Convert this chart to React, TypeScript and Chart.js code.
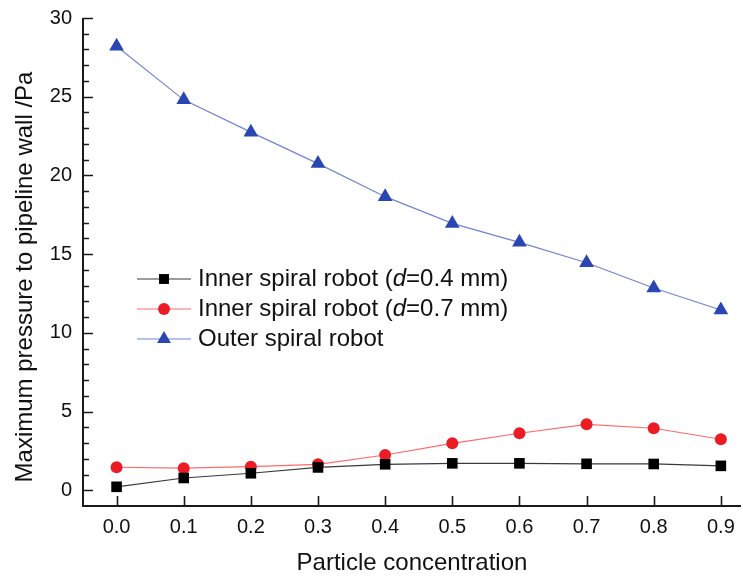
import React, { useEffect, useRef } from "react";
import { Chart, registerables } from "chart.js";

Chart.register(...registerables);

const CONCENTRATION = [0.0, 0.1, 0.2, 0.3, 0.4, 0.5, 0.6, 0.7, 0.8, 0.9];
const INNER_04 = [0.22, 0.78, 1.08, 1.45, 1.65, 1.71, 1.71, 1.68, 1.67, 1.55];
const INNER_07 = [1.46, 1.4, 1.5, 1.65, 2.24, 2.98, 3.62, 4.19, 3.94, 3.24];
const OUTER = [28.2, 24.8, 22.75, 20.75, 18.65, 16.95, 15.75, 14.45, 12.85, 11.45];

const X_TICKS = [0.0, 0.1, 0.2, 0.3, 0.4, 0.5, 0.6, 0.7, 0.8, 0.9];
const Y_TICKS = [0, 5, 10, 15, 20, 25, 30];
const Y_MINOR = Array.from({ length: 31 }, (_, i) => i);

const X_TITLE = "Particle concentration";
const Y_TITLE = "Maximum pressure to pipeline wall /Pa";
const LEGEND = [
  { pre: "Inner spiral robot (", it: "d", post: "=0.4 mm)" },
  { pre: "Inner spiral robot (", it: "d", post: "=0.7 mm)" },
  { pre: "Outer spiral robot", it: "", post: "" },
];

const FONT = "'Liberation Sans', Arial, Helvetica, sans-serif";
const AXIS_COLOR = "#1a1a1a";

const COLORS = {
  black: { line: "#3a3a3a", fill: "#000000" },
  red: { line: "#ff6a6a", fill: "#ec1c24" },
  blue: { line: "#7384d4", fill: "#2a46b2" },
};

function drawMarker(ctx: CanvasRenderingContext2D, style: string, x: number, y: number, r: number, color: string) {
  ctx.save();
  ctx.fillStyle = color;
  ctx.beginPath();
  if (style === "rect") {
    const s = Math.SQRT1_2 * r;
    ctx.rect(x - s, y - s, 2 * s, 2 * s);
  } else if (style === "circle") {
    ctx.arc(x, y, r, 0, Math.PI * 2);
  } else {
    ctx.moveTo(x, y - r);
    ctx.lineTo(x + r * Math.sin((2 * Math.PI) / 3), y - r * Math.cos((2 * Math.PI) / 3));
    ctx.lineTo(x + r * Math.sin((4 * Math.PI) / 3), y - r * Math.cos((4 * Math.PI) / 3));
    ctx.closePath();
  }
  ctx.fill();
  ctx.restore();
}

const axesPlugin = {
  id: "customAxes",
  beforeDatasetsDraw(chart: any) {
    const { ctx, chartArea } = chart;
    const xs = chart.scales.x;
    const ys = chart.scales.y;
    const L = chartArea.left;
    const B = chartArea.bottom;
    ctx.save();
    ctx.strokeStyle = AXIS_COLOR;
    ctx.lineWidth = 2;
    ctx.beginPath();
    ctx.moveTo(L, chartArea.top);
    ctx.lineTo(L, B + 1);
    ctx.moveTo(L - 1, B);
    ctx.lineTo(chartArea.right, B);
    ctx.stroke();
    ctx.lineWidth = 1.6;
    ctx.beginPath();
    Y_MINOR.forEach((v) => {
      const y = Math.round(ys.getPixelForValue(v)) + 0.5;
      const len = v % 5 === 0 ? 10 : 6;
      ctx.moveTo(L, y);
      ctx.lineTo(L + len, y);
    });
    X_TICKS.forEach((v) => {
      const x = Math.round(xs.getPixelForValue(v)) + 0.5;
      ctx.moveTo(x, B);
      ctx.lineTo(x, B - 10);
    });
    ctx.stroke();
    ctx.restore();
  },
  afterDraw(chart: any) {
    const { ctx, chartArea } = chart;
    ctx.save();
    ctx.translate(25, 277);
    ctx.rotate(-Math.PI / 2);
    ctx.font = `24px ${FONT}`;
    ctx.fillStyle = "#111";
    ctx.textAlign = "center";
    ctx.textBaseline = "middle";
    ctx.fillText(Y_TITLE, 0, 0);
    ctx.restore();

    const styles = ["rect", "circle", "triangle"];
    const radii = [7, 6, 8];
    const cols = [COLORS.black, COLORS.red, COLORS.blue];
    const x0 = chartArea.left + 54;
    const y0 = chartArea.top + 261;
    ctx.save();
    LEGEND.forEach((item, i) => {
      const y = y0 + i * 30;
      ctx.strokeStyle = cols[i].line;
      ctx.lineWidth = 1.2;
      ctx.beginPath();
      ctx.moveTo(x0, y);
      ctx.lineTo(x0 + 54, y);
      ctx.stroke();
      drawMarker(ctx, styles[i], x0 + 27, y, radii[i], cols[i].fill);
      ctx.fillStyle = "#111";
      ctx.textBaseline = "middle";
      ctx.textAlign = "left";
      let tx = x0 + 61;
      ctx.font = `24px ${FONT}`;
      ctx.fillText(item.pre, tx, y);
      tx += ctx.measureText(item.pre).width;
      if (item.it) {
        ctx.font = `italic 24px ${FONT}`;
        ctx.fillText(item.it, tx, y);
        tx += ctx.measureText(item.it).width;
        ctx.font = `24px ${FONT}`;
        ctx.fillText(item.post, tx, y);
      }
    });
    ctx.restore();
  },
};

export default function App() {
  const ref = useRef<HTMLCanvasElement | null>(null);
  useEffect(() => {
    if (!ref.current) return;
    const mk = (data: number[], c: { line: string; fill: string }, style: string, r: number, label: string) => ({
      label,
      data: CONCENTRATION.map((x, i) => ({ x, y: data[i] })),
      borderColor: c.line,
      backgroundColor: c.fill,
      borderWidth: 1.2,
      pointStyle: style,
      pointRadius: r,
      pointBorderWidth: 0,
      pointBackgroundColor: c.fill,
      pointBorderColor: c.fill,
      tension: 0,
    });
    const chart = new Chart(ref.current, {
      type: "line",
      data: {
        datasets: [
          mk(INNER_04, COLORS.black, "rect", 7.5, "Inner spiral robot (d=0.4 mm)"),
          mk(INNER_07, COLORS.red, "circle", 6, "Inner spiral robot (d=0.7 mm)"),
          mk(OUTER, COLORS.blue, "triangle", 8.5, "Outer spiral robot"),
        ],
      },
      options: {
        responsive: false,
        animation: false,
        layout: { autoPadding: false, padding: { left: 0, top: 18, right: 2, bottom: 0 } },
        plugins: { legend: { display: false }, tooltip: { enabled: false } },
        scales: {
          x: {
            type: "linear",
            min: -0.05,
            max: 0.93,
            grid: { display: false, drawTicks: false, tickLength: 0 },
            border: { display: false },
            afterBuildTicks: (s: any) => {
              s.ticks = X_TICKS.map((v) => ({ value: v }));
            },
            afterFit: (s: any) => {
              s.height = 70;
              s.paddingLeft = 0;
              s.paddingRight = 0;
            },
            ticks: {
              padding: 9,
              color: "#111",
              font: { family: FONT, size: 20 },
              maxRotation: 0,
              autoSkip: false,
              callback: (v: any) => Number(v).toFixed(1),
            },
            title: {
              display: true,
              text: X_TITLE,
              color: "#111",
              font: { family: FONT, size: 24, lineHeight: 1 },
              padding: { top: 0, bottom: 1 },
            },
          },
          y: {
            type: "linear",
            min: -1,
            max: 30,
            grid: { display: false, drawTicks: false, tickLength: 0 },
            border: { display: false },
            afterBuildTicks: (s: any) => {
              s.ticks = Y_TICKS.map((v) => ({ value: v }));
            },
            afterFit: (s: any) => {
              s.width = 83;
              s.paddingTop = 0;
              s.paddingBottom = 0;
            },
            ticks: {
              padding: 11,
              color: "#111",
              font: { family: FONT, size: 20 },
              autoSkip: false,
              callback: (v: any) => String(v),
            },
          },
        },
      },
      plugins: [axesPlugin],
    } as any);
    return () => chart.destroy();
  }, []);
  return (
    <div style={{ position: "fixed", left: 0, top: 0, width: 743, height: 576, background: "#fff" }}>
      <canvas ref={ref} width={743} height={576} style={{ display: "block" }} />
    </div>
  );
}
